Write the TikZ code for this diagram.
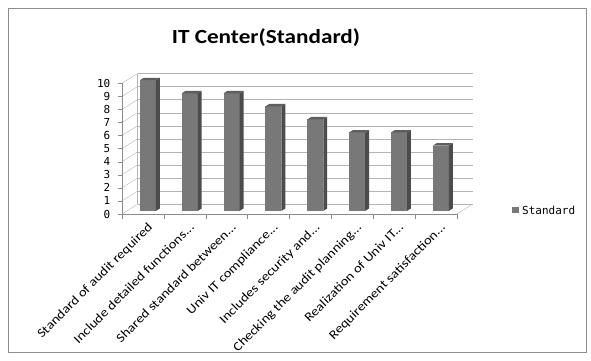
\documentclass[tikz,border=0pt]{standalone}
\usepackage{fontspec}
\setmainfont{Carlito}
\newfontfamily\tickfont{DejaVu Sans Mono}
\newfontfamily\widefont[FakeStretch=1.16]{Carlito}
\usetikzlibrary{positioning}
\definecolor{framegray}{HTML}{8C8C8C}
\definecolor{gridgray}{HTML}{B4B4B4}
\definecolor{axisgray}{HTML}{8A8A8A}
\definecolor{barfront}{HTML}{787878}
\definecolor{barside}{HTML}{4C4C4C}
\definecolor{bartop}{HTML}{5E5E5E}
\newcommand{\moredots}{...}

\begin{document}
\begin{tikzpicture}[x=1pt, y=-1pt, line join=round,
  catlabel/.style={font=\widefont\fontsize{12.6}{15}\selectfont, anchor=north east, rotate=45, inner sep=1pt},
  ticklabel/.style={font=\tickfont\fontsize{11}{13}\selectfont, anchor=east, inner sep=1pt}]
  \useasboundingbox (0,0) rectangle (591,361);

  % Outer frame and title
  \draw[framegray, line width=0.8pt] (8,8) rectangle (586,352);
  \node (title) [font=\widefont\bfseries\fontsize{20}{24}\selectfont] at (266,38) {IT Center(Standard)};

  % Back wall grid, left wall and value ticks
  \foreach \v in {0,...,10}{
    \draw[gridgray] (137.5,204.2-13.07*\v) -- (472.5,204.2-13.07*\v);
    \draw[gridgray] (122,214-13.07*\v) -- (137.5,204.2-13.07*\v);
    \draw[axisgray] (118,214-13.07*\v) -- (122,214-13.07*\v);
    \node (ytick\v) [ticklabel] at (111.5,214-13.07*\v) {\v};
  }
  \draw[gridgray] (137.5,204.2) -- (137.5,73.5);

  % Floor and axes
  \draw[gridgray] (457,214) -- (472.5,204.2);
  \draw[axisgray] (122,83.3) -- (122,214) -- (457,214);
  \foreach \i in {0,...,8}
    \draw[axisgray] (122+41.85*\i,214) -- ++(0,5);

  % Bars
  \foreach \val [count=\i] in {10,9,9,8,7,6,6,5}{
    \pgfmathsetmacro{\cx}{122+41.85*(\i-0.5)+5}
    \pgfmathsetmacro{\bary}{210.9-13.07*\val}
    \fill[barfront] (\cx-8,210.9) rectangle (\cx+8,\bary);
    \fill[barside] (\cx+8,210.9) -- ++(3.9,-2.45) -- (\cx+11.9,\bary-2.45) -- (\cx+8,\bary) -- cycle;
    \fill[bartop] (\cx-8,\bary) -- (\cx+8,\bary) -- (\cx+11.9,\bary-2.45) -- (\cx-4.1,\bary-2.45) -- cycle;
  }

  % Category labels
  \foreach \lab [count=\i] in {Standard of audit required, Include detailed functions\moredots, Shared standard between\moredots, Univ IT compliance\moredots, Includes security and\moredots, Checking the audit planning\moredots, Realization of Univ IT\moredots, Requirement satisfaction\moredots}{
    \pgfmathsetmacro{\lx}{122+41.85*(\i-0.5)+4}
    \node (cat\i) [catlabel] at (\lx,220) {\lab};
  }

  % Legend
  \fill[barfront] (512,206.8) rectangle (518.5,213.3);
  \node (legend) [font=\tickfont\fontsize{11}{13}\selectfont, anchor=west, inner sep=1pt] at (521,210) {Standard};
\end{tikzpicture}
\end{document}
